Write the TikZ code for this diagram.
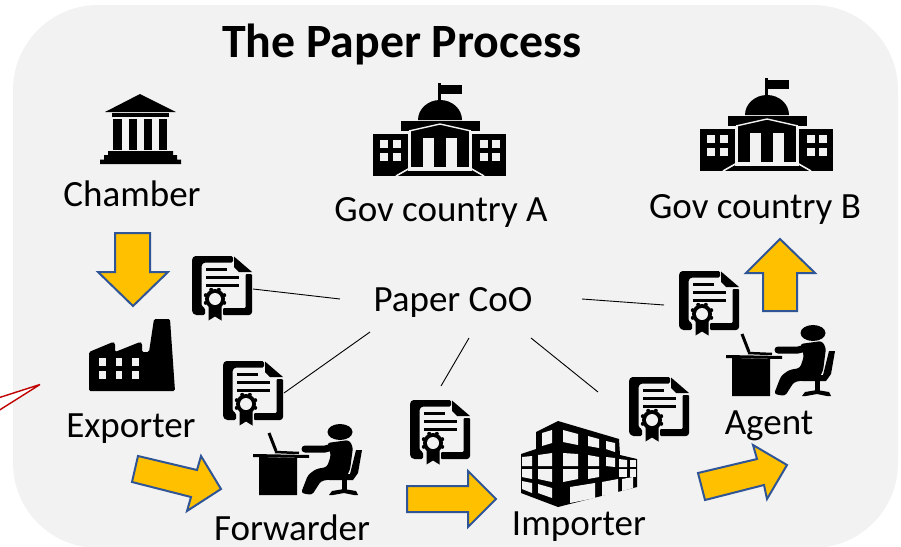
\documentclass[tikz,border=0pt]{standalone}
\usepackage{fontspec}
\setmainfont{Carlito}
\definecolor{bgc}{HTML}{F2F2F2}
\definecolor{arrowfill}{HTML}{FFC000}
\definecolor{arrowline}{HTML}{2F5597}
\definecolor{calloutred}{HTML}{C00000}
\tikzset{
  x=1pt,y=-1pt,
  label text/.style={font=\fontsize{37}{40}\selectfont,text=black,inner sep=0pt,anchor=center},
  title text/.style={font=\fontsize{47.8}{50}\selectfont\bfseries,text=black,inner sep=0pt,anchor=center},
  blockarrow/.style={fill=arrowfill,draw=arrowline,line width=2pt,line join=miter},
  link/.style={draw=black,line width=0.9pt},
  icon/.style={fill=black,draw=none},
  hole/.style={fill=bgc,draw=none},
  pics/cert/.style={code={
    \fill[icon,rounded corners=1.5pt] (0,3)--(2,0)--(41,0)--(41,6.5)--(12,6.5)--(9.5,9)--(9.5,50)--(13,52)--(13,59)--(3,59)--(0,56)--cycle;
    \fill[icon,rounded corners=1pt] (60,18)--(60,57)--(58,59)--(31,59)--(31,52)--(53.5,52)--(53.5,18)--cycle;
    \fill[icon] (42,0.5)--(60,16)--(47,16)--(42,11)--cycle;
    \draw[black,line width=3pt] (14,13)--(35,13) (14,21)--(47,21) (14,29)--(47,29);
    \fill[icon] (16.5,48)--(16.5,64.5)--(23,60.5)--(29.5,64.5)--(29.5,48)--cycle;
    \foreach \a in {22.5,67.5,...,337.5}{\fill[icon] ({23+10*cos(\a)},{43+10*sin(\a)}) circle[radius=2pt];}
    \fill[icon] (23,43) circle[radius=10pt];
    \fill[hole] (23,43) circle[radius=6pt];
  }},
  pics/desk/.style={code={
    \fill[icon] (87,7) ellipse[x radius=12.5pt,y radius=8pt];
    \draw[black,line width=3pt] (16,8)--(23,26);
    \draw[black,line width=2.5pt] (22,27)--(46,28);
    \fill[icon] (0,29)--(56,30)--(56,33)--(0,32)--cycle;
    \fill[icon] (6,32)--(44,33)--(44,70)--(6,70)--cycle;
    \draw[black,line width=7pt,line cap=round] (52,24)--(72,24)--(84,21);
    \fill[icon,rounded corners=3pt] (74,18)--(96,15)--(100,22)--(97,45)--(93,52)--(68,56)--(59,70)--(48,68)--(55,50)--(63,44)--(74,42)--(78,30)--cycle;
    \fill[icon] (103,25)--(109,25)--(105,48)--(100,55)--(76,55)--(76,50)--(97,49)--cycle;
    \fill[icon] (88.5,55)--(93.5,55)--(93.5,65)--(88.5,65)--cycle;
    \fill[icon] (76,70)--(79,66)--(91,64)--(103,66)--(105,70)--(101,70)--(91,68)--(80,70)--cycle;
  }},
  pics/gov/.style={code={
    \fill[icon] (65,0)--(68,0)--(68,20)--(65,20)--cycle;
    \fill[icon] (68,2)--(89,2)--(89,11)--(68,11)--cycle;
    \fill[icon] (45,37) arc[start angle=180,end angle=360,x radius=22pt,y radius=-20pt]--cycle;
    \fill[icon] (28,38)--(107,38)--(107,48)--(28,48)--cycle;
    \fill[icon] (38,44)--(96,44)--(96,85)--(38,85)--cycle;
    \draw[bgc,line width=1.4pt] (36,48)--(67,41)--(98,48);
    \draw[bgc,line width=1.4pt] (37,48)--(37,85) (97,48)--(97,85);
    \fill[icon] (0,51)--(35,51)--(35,93)--(0,93)--cycle;
    \fill[icon] (99,51)--(133,51)--(133,93)--(99,93)--cycle;
    \fill[icon] (35,88)--(99,88)--(99,93)--(35,93)--cycle;
    \fill[hole] (50,55)--(61,55)--(61,85)--(50,85)--cycle;
    \fill[hole] (73,55)--(84,55)--(84,85)--(73,85)--cycle;
    \foreach \u in {7,20,107,119}{\foreach \v in {57,70}{
      \fill[hole] (\u,\v) rectangle ++(8,8);}}
    \draw[bgc,line width=1.6pt] (23,93)--(37,85)--(97,85)--(111,93);
  }}
}
\begin{document}
\begin{tikzpicture}
\useasboundingbox (0,0) rectangle (901,546);
\begin{scope}
\clip (0,0) rectangle (901,546);
\fill[bgc,rounded corners=85pt] (13,5) rectangle (898,548);

% callout tip
\coordinate (tip) at (40,384.5);
\coordinate (tipA) at (-2,398);
\coordinate (tipB) at (-2,411);
\draw[calloutred,line width=1.4pt,fill=white,miter limit=3] (tipA)--(tip)--(tipB);
\end{scope}

\node[title text] (title) at (402,44) {The Paper Process};
\node[label text] (chamber) at (132,194) {Chamber};
\node[label text] (govA) at (441,212) {Gov country A};
\node[label text] (govB) at (755,209) {Gov country B};
\node[label text] (coo) at (453,302) {Paper CoO};
\node[label text] (exporter) at (131,429) {Exporter};
\node[label text] (forwarder) at (292,528) {Forwarder};
\node[label text] (importer) at (579,527) {Importer};
\node[label text] (agent) at (769,426) {Agent};

% chamber
\fill[icon] (105,112)--(140,94)--(176,112)--cycle;
\fill[icon] (112,113)--(169,113)--(169,117)--(112,117)--cycle;
\foreach \a/\b in {113/122,129/137,144/152,159/167}{\fill[icon] (\a,119)--(\b,119)--(\b,150)--(\a,150)--cycle;}
\fill[icon] (108,151)--(173,151)--(173,155)--(177,155)--(177,159.5)--(181,159.5)--(181,164)--(100,164)--(100,159.5)--(104,159.5)--(104,155)--(108,155)--cycle;

% governments
\pic at (373,83) {gov};
\pic at (700,78) {gov};

% factory
\fill[icon,rounded corners=1.5pt] (89,391)--(89,352)--(113,342)--(115,343)--(115,352)--(140,342)--(142,343)--(142,352)--(149,352)--(154,319)--(170,319)--(175,391)--cycle;
\foreach \u/\w in {99/106,116/122,132/139}{\foreach \v/\z in {358/366,371/379}{
  \fill[hole] (\u,\v)--(\w,\v)--(\w,\z)--(\u,\z)--cycle;}}

% people
\pic at (253,425) {desk};
\pic at (726,326) {desk};

% importer building
\fill[icon] (558,421)--(619,439)--(620,455)--(637,459)--(637,487)--(558,507)--(521,493)--(521,454)--(536,449)--(536,432)--cycle;
\foreach \p in {
 {(542,433)--(552,430)--(552,443)--(542,446)},
 {(563,430)--(578,434)--(578,445)--(563,442)},
 {(588,436)--(599,439)--(599,448)--(588,446)},
 {(606,441)--(615,443)--(615,452)--(606,449)},
 {(522,457)--(532,456)--(532,466)--(522,466)},
 {(538,455)--(552,453)--(552,466)--(538,466)},
 {(563,453)--(578,454)--(578,466)--(563,466)},
 {(588,455)--(599,457)--(599,466)--(588,466)},
 {(606,457)--(615,458)--(615,467)--(606,466)},
 {(619,459)--(627,460)--(627,467)--(619,467)},
 {(630,460)--(636,460)--(636,467)--(630,467)},
 {(522,469)--(532,469)--(532,479)--(522,477)},
 {(538,469)--(552,469)--(552,482)--(538,479)},
 {(563,469)--(578,469)--(578,479)--(563,482)},
 {(588,469)--(599,469)--(599,477)--(588,479)},
 {(619,469)--(627,469)--(627,477)--(619,477)},
 {(630,469)--(636,469)--(636,477)--(630,477)},
 {(522,481)--(532,483)--(532,493)--(522,489)},
 {(538,484)--(552,488)--(552,498)--(538,493)},
 {(570,487)--(595,483)--(595,498)--(570,503)},
 {(602,482)--(618,479)--(618,493)--(602,496)},
 {(622,479)--(633,477)--(633,488)--(622,491)}}{
  \fill[hole] \p--cycle;}

% certificates
\pic at (192,256) {cert};
\pic at (223,361) {cert};
\pic at (410,400) {cert};
\pic at (629,377) {cert};
\pic at (679,271) {cert};

% connectors
\coordinate (l1a) at (340,299); \coordinate (l1b) at (253,289);
\coordinate (l2a) at (370,332); \coordinate (l2b) at (284,393);
\coordinate (l3a) at (469,338); \coordinate (l3b) at (441,386);
\coordinate (l4a) at (531,338); \coordinate (l4b) at (598,392);
\coordinate (l5a) at (582,299); \coordinate (l5b) at (664,305);
\draw[link] (l1a)--(l1b);
\draw[link] (l2a)--(l2b);
\draw[link] (l3a)--(l3b);
\draw[link] (l4a)--(l4b);
\draw[link] (l5a)--(l5b);

% block arrows
\draw[blockarrow] (115,233)--(150,233)--(150,272)--(168,272)--(133,306)--(98,272)--(115,272)--cycle;
\draw[blockarrow] (780,239)--(815,273)--(797,273)--(797,311)--(763,311)--(763,273)--(746,273)--cycle;
\draw[blockarrow] (138,456)--(197,470)--(201,456)--(221,489)--(187,511)--(191,497)--(132,482)--cycle;
\draw[blockarrow] (407,486)--(468,486)--(468,471)--(496,499)--(468,527)--(468,512)--(407,512)--cycle;
\draw[blockarrow] (698,473)--(757,459)--(753,445)--(787,465)--(767,499)--(764,485)--(705,500)--cycle;
\end{tikzpicture}
\end{document}
